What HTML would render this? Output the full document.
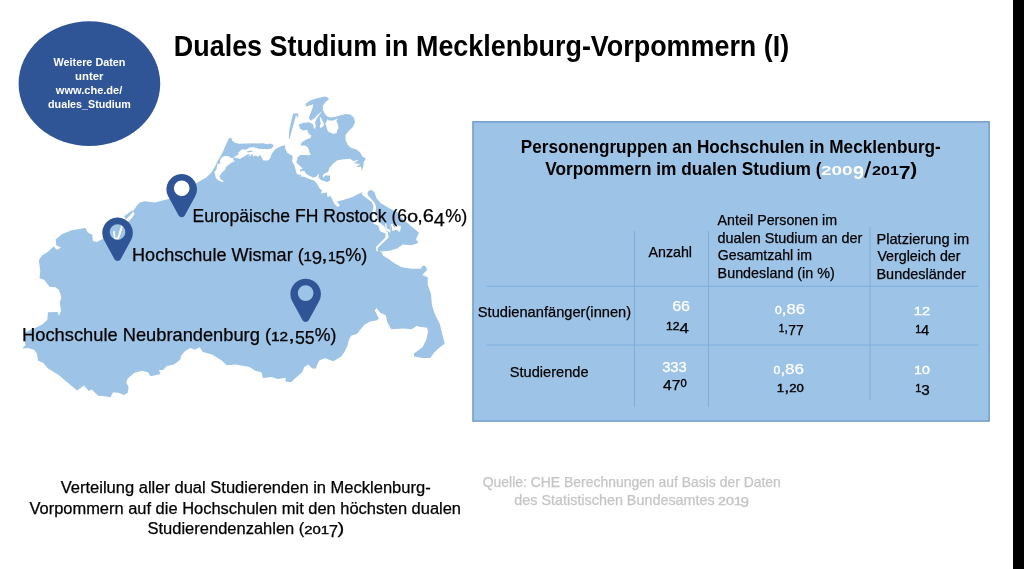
<!DOCTYPE html>
<html lang="de">
<head>
<meta charset="utf-8">
<title>Duales Studium in Mecklenburg-Vorpommern (I)</title>
<style>
  html, body { margin: 0; padding: 0; background: #ffffff; }
  body { width: 1024px; height: 569px; overflow: hidden; font-family: "Liberation Sans", sans-serif; }
  svg { display: block; will-change: transform; }
  text { font-family: "Liberation Sans", sans-serif; }
  .b { font-weight: bold; }
</style>
</head>
<body>
<svg width="1024" height="569" viewBox="0 0 1024 569">
  <rect x="0" y="0" width="1024" height="569" fill="#ffffff"/>

  <!-- MAP -->
  <g id="map" fill="#9DC3E6" stroke="none">
    <!-- mainland -->
    <polygon id="mainland" points="
      38.8,260.3 41.9,255.6 48,251.7 53.6,246.6 56.7,249.7 61,247.8 56.3,245.2 55.6,239.5 62.2,234.1 71.6,230.2 85.6,228.1
      87.7,232.6 92.3,234.8 92.9,240.9 97,242.1 100.2,240.3 103.6,238.4 108,236 114,230 122,226 128.8,221.4 132.7,217 134.5,213.9 133.4,211.5
      132.4,212.5 126.2,219.4 124,216.2 131.8,210.8 133.6,210.5 136.2,206.4 139.8,202.5 145,201.2 154.7,202.5 168.4,199
      180,194 190,187 196.9,182.8 206.3,177.5 211.6,172.2 214.2,168 217.4,161.6 222.2,153.2 226.4,143.7 229,138.4 231.1,137.4
      232.2,140.5 234.8,142.7 239,143.7 263.3,143.2 267.5,144.2 270.1,143.5 273.3,144.8 273.3,146.9 270.7,148.8 267.5,149.3 259.1,148.8 253.8,147.2 249.6,147.4 246.4,149.5 241.7,149.5 239.6,151.6 238,152.7 238.5,154.8 235.9,155.8 233.2,158 231.6,158.3 229,156.4 224.8,155.8 221.6,157.4 220,160.6 220,163.8 217.4,163.8 216.9,166.9 216.4,170.1 214.2,171.7 215.3,175.4 215.8,178 218.5,180.6 222.2,182 224,181.4 220.6,179.1 219.5,176.4 221.6,172.7 225.3,169.6 226.4,166.4 230.6,163.2 234.8,161.1 232.7,159 234.8,157.6 240.1,158.7 245.4,155.8 248.7,153.7 248.7,157.4 249.6,153.7 250.6,156.4 251.7,153.7 253.8,156.4 255.9,155.3 258,156.9 260.1,154.8 263.3,160.6 268,160.6 270.1,158.5 271.7,153.7 274.9,149.5 280.2,146.4 284.9,145.3
      285.3,148.7 287.4,152.9 292.7,156.1 292.1,161.3 294.8,166.6 295.8,170.8 296.9,174.2 301.6,175 300,176.3 304.8,177.1 310,179.3 314.3,180.8
      316.9,183.5 319,187.7 322.2,190.8 320.6,193.5 326.9,192.4 327.5,196.9 330.6,196 334.5,204 337.7,207 340,205.5 336.9,201.6 343,200 352.5,196.9 358.8,193.8 362.7,191.9 361.9,194.5 367.3,198.4 372,202.3 373.6,207 372,212.5 373,223.4 378.4,225.8 380,231.3 385.5,233.6 385.5,237.5 380,243 376,246.9 376.9,250 381.6,252.3
      383,255.5 387.8,258.6 395.6,264 401.9,267.2 411.3,268.8 420.6,268.8 423,265.6 426,266.4 426.9,270.3 422.2,275 427.7,277.3 427.7,284.4
      431,294 431.9,305 435,314.4 439.7,323.8 442,333 444.7,343.8 438,348.8 433.4,353.4 430.3,358 422.5,358 414,356.6 414,353.4 422.5,347.2 426.4,339.4 428,331.6 427.2,327.7 421,326.9 416.3,326 411.6,329.2 403.8,328.4 391.3,329.2 387.3,322.2 385.8,315.2 380.3,312.8 376.4,308 374.8,310.5 378.8,318.3 377.2,320.3 370.2,321.4 364.7,324.5 360,330 356.9,333.9 351.4,335.5 349,339.4 347.5,345.6 344.4,351.9 341.3,356.6 333.4,361.3 327.2,358.9 324.7,358.3 319.2,360.6 316.9,365.3 316,368.4 312.2,368.4 308.3,364.5 304.4,366.9 302,372.3 295.8,377.8 291,382.2 285.6,381.4 285.6,377.8 277.8,379 271.6,377 263,378 261.4,372.3 255.2,370.8 249.7,366.9 235.6,364.5 227,365.3 221.6,360.6 212.2,354.4 202.8,352 199.7,347.3 195,349.7 190.3,348 184.8,351.3 181,356 180.2,359.8 174,364.5 166.9,366 163,370 159,370 160.6,374 150.5,376.3 148,372.3 141.9,370.8 134,373 127.8,378.6 126.3,382.5 128.6,387.2 127.8,392.7 124,395 118.4,392.7 113,392.2 110.6,397.3 104.4,396.3 98,395.8 91.9,389.5 88.8,391 84,385.6 77,390.6 68.4,383.3 58.3,374.7 48,368.4 43.4,363 38,360.6 36.9,353.6 34,349.7 27.8,348 22.3,348.4 25.5,345 24.7,340.3 24.7,332.5 35.6,327.8 41.9,324.7 47.3,320 48,312.2 57.5,311.9 59,315.8 61,311 59.8,302.5 61.4,297 59,290 55,286.9 49.7,286.9 44.2,279.8 39.5,278.3 40.3,271.3"/>
    <!-- Usedom -->
    <polygon id="usedom" points="367.3,194.8 368,191.4 371.3,189.8 374.4,192.2 376.7,198.4 380.6,203 388.4,207.8 397.8,212.5 398.8,215.6 408,223.4 419,232.8 416,239 418.3,243 411.3,245.3 402.7,244.5 397.2,248.4 389.4,250.8 381.6,251.6 377.7,250.8 376.6,248.6 383,242.6 388.6,237.5 388,233 385.8,230.5 384.5,226.5 380.5,223.5 377,218 375.6,212.5 376,207 374.8,203 371,199"/>
    <!-- Ruegen -->
    <polygon id="wittow" points="305.5,106.5 306,103.4 310.8,100.3 317.8,98.1 324.9,96.6 328.4,97.7 328.8,99.5 325.7,101.7 323.1,105.2 322.7,108.7 323.4,111.2 321.4,111.4 317.8,114.8 314.3,118.3 311.2,120.6 309,118.8 309.5,115.7 312.1,109.6 313.4,104.3"/>
    <polygon id="ruegen" points="
      321.3,112 321.4,111 323.4,111 324,112.6 326.6,116.1 330.1,117.5 334.5,117 340.7,115.3 345.9,113.9 350.3,114.4 353.8,117.5 355.1,121.9 352.9,127.1 348.6,131.1 345.5,135 345.6,140 347.7,144.7 350.8,147.8 356.3,149.4 360.2,152.5 362.5,156.4 365.9,158.8 363.8,161.9 363.4,165.6 361.9,171 361,166.4 355.6,167.2 360.3,164 354,163.3 358.8,160 353.3,161 350,158.8 343.8,159.2 337.4,160.3 333.2,163.5 329.5,167.7 328,171.9 323.7,174 322.7,176.1 323.7,178.2 324.8,175.6 329.9,175.6 330.1,180.8 326.9,181.9 321.6,180.3 318.5,177.7 319,173.5 316.4,176.6 313.2,177.7 309,175.6 305.8,173.5 304.2,170.8 300,171.4 300,169.8 302.7,168.7 299.5,165.6 296.3,162.4 297.9,157.1 300.6,155 305.8,155 309,155.5 311.1,154 309.5,152.9 309,149.8 307.4,147.1 304.8,145.5 300.6,145.5 301.6,142.4 305.8,139.7 310.8,137.7 311.2,135.5 308.2,133.3 307.3,129.8 303.3,130.6 300.3,128.9 298.5,124.5 303.8,122.7 309,122.3 312.6,124 313.5,125.5 313.7,128.4 315.3,128.4 315.7,124.5 315,122.3 317,118.3"/>
    <polygon points="247.3,151.2 252.3,150.5 252.4,151.8 247.5,152.4"/>
    <!-- Hiddensee -->
    <polygon id="hiddensee" points="293.3,113.4 297.2,113.2 298.3,114.5 298,118 297,116.5 296,115 294.5,121 292.5,128 290.5,135 289.6,139 288.8,139 289.2,131 290.8,123 292.3,117"/>
  </g>
  <!-- white water bodies on top -->
  <g fill="#ffffff" stroke="none">
    <polygon points="328.8,120.5 333.6,120.5 338,118.3 336.3,121 338,124.5 338.5,128 337.1,130.6 336.7,133.3 333.2,133.7 328.8,132 327,129.7 326.6,126.7 325.3,124.1 327.5,119.2"/>
    <polygon points="320.9,116.8 321.8,119.7 323.8,123.2 324,125.4 321.3,127.8 320,127.6 319.8,126.7 320.9,122.7 320,121 319.8,118.3"/>
  </g>
  <g fill="none" stroke="#ffffff" stroke-linecap="round" stroke-linejoin="round">
    <polyline stroke-width="1.5" points="373.4,203.5 374.7,207 373.8,212.5 375.5,218 379.5,223.5 382.6,226.5 382.8,230 386.9,233.4 387,237.5 381.4,243.2 376.6,247.8 377.3,250.6"/>
    <polygon stroke="none" fill="#ffffff" points="361.9,193.2 363.5,191.6 367.3,194.6 371.2,199 374.6,203.2 375.2,206 373.8,206 372.2,202.3 367.3,198.4 362,194.6"/>
  </g>
  <g fill="#ffffff">
    <polygon points="385.3,223.4 385.3,229.7 390,232.8 391.6,225 392.3,231 396.3,229.7 400,232 401,226.6 396,224.5 394.5,228 392.5,224 390.8,224 390.5,230 386.6,228.5 386.4,223.6"/>
  </g>

  <!-- PINS -->
  <defs>
    <path id="pin" fill-rule="evenodd" d="M -13.42,8.24 A 15.3,15.3 0 1 1 13.42,8.24 L 3.07,27.18 A 3.5,3.5 0 0 1 -3.07,27.18 Z M 7.85,0 A 7.85,7.85 0 1 0 -7.85,0 A 7.85,7.85 0 1 0 7.85,0 Z"/>
  </defs>
  <circle cx="181.7" cy="188.3" r="8.3" fill="#ffffff"/>
  <circle cx="117.55" cy="232" r="8.3" fill="#9DC3E6"/>
  <g fill="#ffffff" stroke="none">
    <polygon points="121.2,225.4 122.8,226 121.9,229.6 120.9,233.6 119.9,236.2 118.9,238.3 119.8,239.6 114.9,239.8 113.9,238.2 113.3,234.5 113.4,231 114.7,230.8 115.1,234.2 115.5,237.4 117.2,237.8 118.3,235 119.3,231.5 120.1,228.4"/>
  </g>
  <g fill="#2F5597">
    <use href="#pin" x="181.7" y="188.3"/>
    <use href="#pin" x="117.55" y="232"/>
    <use href="#pin" x="305.65" y="293.1"/>
  </g>

  <!-- CIRCLE -->
  <ellipse cx="89.4" cy="83.6" rx="70.8" ry="62.4" fill="#2F5597"/>
  <text x="53.52" y="66.2" font-size="11" font-weight="bold" fill="#fff" textLength="71.92" lengthAdjust="spacingAndGlyphs">Weitere Daten</text>
  <text x="75.06" y="80.2" font-size="11" font-weight="bold" fill="#fff" textLength="28.47" lengthAdjust="spacingAndGlyphs">unter</text>
  <text x="55.89" y="94.3" font-size="11" font-weight="bold" fill="#fff" textLength="66.43" lengthAdjust="spacingAndGlyphs">www.che.de/</text>
  <text x="48.08" y="108.0" font-size="11" font-weight="bold" fill="#fff" textLength="82.78" lengthAdjust="spacingAndGlyphs">duales_Studium</text>
  <text x="173.84" y="56.0" font-size="28.6" font-weight="bold" fill="#000" textLength="615.32" lengthAdjust="spacingAndGlyphs">Duales Studium in Mecklenburg-Vorpommern (I)</text>
  <text x="192.55" y="222.1" font-size="18.6" stroke="#000" stroke-width="0.25" fill="#000" textLength="214.53" lengthAdjust="spacingAndGlyphs">Europäische FH Rostock (6</text>
  <text x="407.35" y="222.1" font-size="13.02" stroke="#000" stroke-width="0.35" fill="#000" textLength="10.77" lengthAdjust="spacingAndGlyphs">0</text>
  <text x="417.24" y="222.1" font-size="18.6" stroke="#000" stroke-width="0.25" fill="#000" textLength="16.75" lengthAdjust="spacingAndGlyphs">,6</text>
  <text x="433.82" y="225.63" font-size="18.6" stroke="#000" stroke-width="0.25" fill="#000" textLength="11.09" lengthAdjust="spacingAndGlyphs">4</text>
  <text x="445.27" y="222.1" font-size="18.6" stroke="#000" stroke-width="0.25" fill="#000" textLength="22.10" lengthAdjust="spacingAndGlyphs">%)</text>
  <text x="132.06" y="260.9" font-size="18.6" stroke="#000" stroke-width="0.25" fill="#000" textLength="171.68" lengthAdjust="spacingAndGlyphs">Hochschule Wismar (</text>
  <text x="303.54" y="260.9" font-size="13.02" stroke="#000" stroke-width="0.35" fill="#000" textLength="8.29" lengthAdjust="spacingAndGlyphs">1</text>
  <text x="311.83" y="264.43" font-size="18.6" stroke="#000" stroke-width="0.25" fill="#000" textLength="10.35" lengthAdjust="spacingAndGlyphs">9</text>
  <text x="321.26" y="260.9" font-size="18.6" stroke="#000" stroke-width="0.25" fill="#000" textLength="6.37" lengthAdjust="spacingAndGlyphs">,</text>
  <text x="327.92" y="260.9" font-size="13.02" stroke="#000" stroke-width="0.35" fill="#000" textLength="7.86" lengthAdjust="spacingAndGlyphs">1</text>
  <text x="335.46" y="264.43" font-size="18.6" stroke="#000" stroke-width="0.25" fill="#000" textLength="9.69" lengthAdjust="spacingAndGlyphs">5</text>
  <text x="345.27" y="260.9" font-size="18.6" stroke="#000" stroke-width="0.25" fill="#000" textLength="22.10" lengthAdjust="spacingAndGlyphs">%)</text>
  <text x="22.12" y="340.6" font-size="18.6" stroke="#000" stroke-width="0.25" fill="#000" textLength="248.93" lengthAdjust="spacingAndGlyphs">Hochschule Neubrandenburg (</text>
  <text x="271.02" y="340.6" font-size="13.02" stroke="#000" stroke-width="0.35" fill="#000" textLength="17.13" lengthAdjust="spacingAndGlyphs">12</text>
  <text x="288.17" y="340.6" font-size="18.6" stroke="#000" stroke-width="0.25" fill="#000" textLength="6.61" lengthAdjust="spacingAndGlyphs">,</text>
  <text x="294.92" y="344.13" font-size="18.6" stroke="#000" stroke-width="0.25" fill="#000" textLength="19.74" lengthAdjust="spacingAndGlyphs">55</text>
  <text x="314.65" y="340.6" font-size="18.6" stroke="#000" stroke-width="0.25" fill="#000" textLength="21.65" lengthAdjust="spacingAndGlyphs">%)</text>
  <text x="60.66" y="493.4" font-size="16.0" stroke="#000" stroke-width="0.25" fill="#000" textLength="370.01" lengthAdjust="spacingAndGlyphs">Verteilung aller dual Studierenden in Mecklenburg-</text>
  <text x="29.47" y="514.1" font-size="16.0" stroke="#000" stroke-width="0.25" fill="#000" textLength="431.54" lengthAdjust="spacingAndGlyphs">Vorpommern auf die Hochschulen mit den höchsten dualen</text>
  <text x="147.54" y="533.7" font-size="16.0" stroke="#000" stroke-width="0.25" fill="#000" textLength="156.79" lengthAdjust="spacingAndGlyphs">Studierendenzahlen (</text>
  <text x="304.20" y="533.7" font-size="11.2" stroke="#000" stroke-width="0.35" fill="#000" textLength="24.91" lengthAdjust="spacingAndGlyphs">201</text>
  <text x="328.81" y="536.74" font-size="16.0" stroke="#000" stroke-width="0.25" fill="#000" textLength="9.26" lengthAdjust="spacingAndGlyphs">7</text>
  <text x="337.63" y="533.7" font-size="16.0" stroke="#000" stroke-width="0.25" fill="#000" textLength="6.71" lengthAdjust="spacingAndGlyphs">)</text>
  <text x="482.73" y="486.9" font-size="14.3" stroke="#C5C5C5" stroke-width="0.25" fill="#C5C5C5" textLength="298.15" lengthAdjust="spacingAndGlyphs">Quelle: CHE Berechnungen auf Basis der Daten</text>
  <text x="514.34" y="504.5" font-size="14.3" stroke="#C5C5C5" stroke-width="0.25" fill="#C5C5C5" textLength="200.34" lengthAdjust="spacingAndGlyphs">des Statistischen Bundesamtes</text>
  <text x="717.98" y="504.5" font-size="10.01" stroke="#C5C5C5" stroke-width="0.35" fill="#C5C5C5" textLength="23.94" lengthAdjust="spacingAndGlyphs">201</text>
  <text x="740.43" y="507.22" font-size="14.3" stroke="#C5C5C5" stroke-width="0.25" fill="#C5C5C5" textLength="8.53" lengthAdjust="spacingAndGlyphs">9</text>

  <!-- TABLE BOX -->
  <rect x="472.9" y="121.8" width="516.3" height="299.3" fill="#9DC3E6" stroke="#5F8FC0" stroke-width="1.2"/>
  <g stroke="#7FAEDD" stroke-width="1" fill="none">
    <line x1="634.5" y1="231" x2="634.5" y2="407"/>
    <line x1="708.5" y1="231" x2="708.5" y2="407"/>
    <line x1="870" y1="227" x2="870" y2="400"/>
    <line x1="486.5" y1="286.3" x2="978.5" y2="286.3"/>
    <line x1="486.5" y1="345" x2="978.5" y2="345"/>
  </g>
  <line x1="870.2" y1="161.2" x2="865.1" y2="177.6" stroke="#000" stroke-width="2.1"/>
  <text x="520.83" y="152.7" font-size="18.6" font-weight="bold" fill="#000" textLength="419.93" lengthAdjust="spacingAndGlyphs">Personengruppen an Hochschulen in Mecklenburg-</text>
  <text x="545.22" y="175.3" font-size="18.6" font-weight="bold" fill="#000" textLength="276.23" lengthAdjust="spacingAndGlyphs">Vorpommern im dualen Studium (</text>
  <text x="820.99" y="175.3" font-size="13.02" font-weight="bold" fill="#fff" textLength="31.65" lengthAdjust="spacingAndGlyphs">200</text>
  <text x="852.98" y="178.83" font-size="18.6" font-weight="bold" fill="#fff" textLength="10.95" lengthAdjust="spacingAndGlyphs">9</text>
  <text x="872.14" y="175.3" font-size="13.02" font-weight="bold" fill="#000" textLength="26.92" lengthAdjust="spacingAndGlyphs">201</text>
  <text x="898.65" y="178.83" font-size="18.6" font-weight="bold" fill="#000" textLength="11.84" lengthAdjust="spacingAndGlyphs">7</text>
  <text x="910.18" y="175.3" font-size="18.6" font-weight="bold" fill="#000" textLength="6.95" lengthAdjust="spacingAndGlyphs">)</text>
  <text x="648.51" y="256.6" font-size="14.3" stroke="#000" stroke-width="0.25" fill="#000" textLength="43.54" lengthAdjust="spacingAndGlyphs">Anzahl</text>
  <text x="717.60" y="225.2" font-size="14.3" stroke="#000" stroke-width="0.25" fill="#000" textLength="119.49" lengthAdjust="spacingAndGlyphs">Anteil Personen im</text>
  <text x="717.42" y="242.8" font-size="14.3" stroke="#000" stroke-width="0.25" fill="#000" textLength="144.88" lengthAdjust="spacingAndGlyphs">dualen Studium an der</text>
  <text x="717.86" y="260.4" font-size="14.3" stroke="#000" stroke-width="0.25" fill="#000" textLength="94.14" lengthAdjust="spacingAndGlyphs">Gesamtzahl im</text>
  <text x="717.61" y="278.0" font-size="14.3" stroke="#000" stroke-width="0.25" fill="#000" textLength="117.17" lengthAdjust="spacingAndGlyphs">Bundesland (in %)</text>
  <text x="876.42" y="243.5" font-size="14.3" stroke="#000" stroke-width="0.25" fill="#000" textLength="92.74" lengthAdjust="spacingAndGlyphs">Platzierung im</text>
  <text x="877.42" y="261.4" font-size="14.3" stroke="#000" stroke-width="0.25" fill="#000" textLength="83.04" lengthAdjust="spacingAndGlyphs">Vergleich der</text>
  <text x="876.45" y="279.0" font-size="14.3" stroke="#000" stroke-width="0.25" fill="#000" textLength="89.31" lengthAdjust="spacingAndGlyphs">Bundesländer</text>
  <text x="477.84" y="316.8" font-size="14.8" stroke="#000" stroke-width="0.25" fill="#000" textLength="153.33" lengthAdjust="spacingAndGlyphs">Studienanfänger(innen)</text>
  <text x="509.82" y="376.9" font-size="14.8" stroke="#000" stroke-width="0.25" fill="#000" textLength="78.75" lengthAdjust="spacingAndGlyphs">Studierende</text>
  <text x="672.16" y="311.3" font-size="14.3" stroke="#fff" stroke-width="0.25" fill="#fff" textLength="17.92" lengthAdjust="spacingAndGlyphs">66</text>
  <text x="662.16" y="369.5" font-size="14.3" stroke="#fff" stroke-width="0.25" fill="#fff" textLength="24.62" lengthAdjust="spacingAndGlyphs"><tspan dy="2.72">333</tspan></text>
  <text x="775.10" y="314.2" font-size="14.3" stroke="#fff" stroke-width="0.25" fill="#fff" textLength="29.90" lengthAdjust="spacingAndGlyphs"><tspan dy="0.00" font-size="10.30" stroke-width="0.35">0</tspan>,86</text>
  <text x="773.61" y="374.4" font-size="14.3" stroke="#fff" stroke-width="0.25" fill="#fff" textLength="30.36" lengthAdjust="spacingAndGlyphs"><tspan dy="0.00" font-size="10.30" stroke-width="0.35">0</tspan>,86</text>
  <text x="913.89" y="315.0" font-size="14.3" stroke="#fff" stroke-width="0.25" fill="#fff" textLength="16.29" lengthAdjust="spacingAndGlyphs"><tspan dy="0.00" font-size="10.30" stroke-width="0.35">12</tspan></text>
  <text x="914.04" y="374.4" font-size="14.3" stroke="#fff" stroke-width="0.25" fill="#fff" textLength="15.75" lengthAdjust="spacingAndGlyphs"><tspan dy="0.00" font-size="10.30" stroke-width="0.35">10</tspan></text>
  <text x="666.08" y="330.0" font-size="14.3" stroke="#000" stroke-width="0.25" fill="#000" textLength="22.87" lengthAdjust="spacingAndGlyphs"><tspan dy="0.00" font-size="10.30" stroke-width="0.35">12</tspan><tspan dy="2.72">4</tspan></text>
  <text x="663.11" y="387.3" font-size="14.3" stroke="#000" stroke-width="0.25" fill="#000" textLength="23.61" lengthAdjust="spacingAndGlyphs"><tspan dy="2.72">47</tspan><tspan dy="-2.72" font-size="10.30" stroke-width="0.35">0</tspan></text>
  <text x="778.74" y="331.8" font-size="14.3" stroke="#000" stroke-width="0.25" fill="#000" textLength="24.88" lengthAdjust="spacingAndGlyphs"><tspan dy="0.00" font-size="10.30" stroke-width="0.35">1</tspan>,<tspan dy="2.72">77</tspan></text>
  <text x="776.82" y="392.3" font-size="14.3" stroke="#000" stroke-width="0.25" fill="#000" textLength="27.07" lengthAdjust="spacingAndGlyphs"><tspan dy="0.00" font-size="10.30" stroke-width="0.35">1</tspan>,<tspan dy="0.00" font-size="10.30" stroke-width="0.35">20</tspan></text>
  <text x="915.16" y="332.6" font-size="14.3" stroke="#000" stroke-width="0.25" fill="#000" textLength="14.22" lengthAdjust="spacingAndGlyphs"><tspan dy="0.00" font-size="10.30" stroke-width="0.35">1</tspan><tspan dy="2.72">4</tspan></text>
  <text x="915.15" y="392.3" font-size="14.3" stroke="#000" stroke-width="0.25" fill="#000" textLength="14.65" lengthAdjust="spacingAndGlyphs"><tspan dy="0.00" font-size="10.30" stroke-width="0.35">1</tspan><tspan dy="2.72">3</tspan></text>

  <!-- black strip on right -->
  <rect x="1013" y="0" width="11" height="569" fill="#000000"/>
</svg>
</body>
</html>
